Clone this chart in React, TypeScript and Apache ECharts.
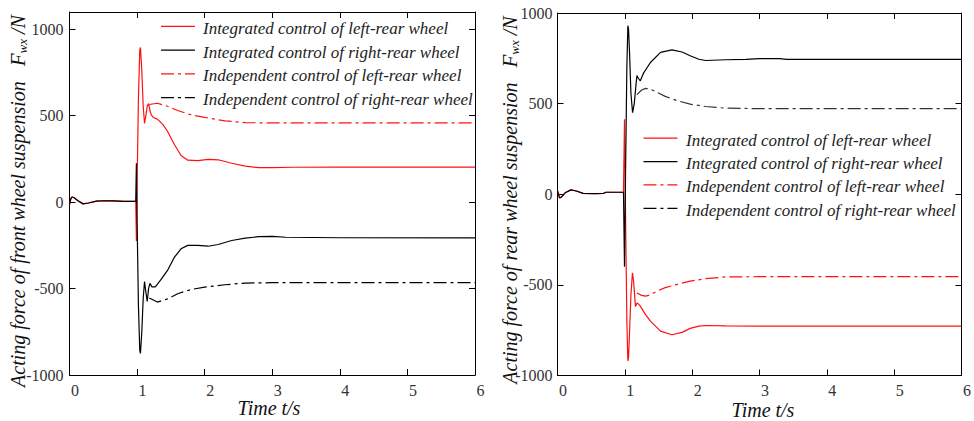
import React, { useEffect, useRef } from "react";
import * as echarts from "echarts";

const legendNames = [
  "Integrated control of left-rear wheel",
  "Integrated control of right-rear wheel",
  "Independent control of left-rear wheel",
  "Independent control of right-rear wheel",
];

// Time axis (s)
const timeMin = 0;
const timeMax = 6;
const timeInterval = 1;

// Force axes (N)
const frontYMin = -1000;
const frontYMax = 1100;
const rearYMin = -1000;
const rearYMax = 1000;
const yInterval = 500;

// ---------- front wheel suspension (left panel) ----------
const frontPre: number[][] = [
  [0, -15], [0.02, 20], [0.04, 30], [0.07, 25], [0.12, 10], [0.2, -10],
  [0.28, -5], [0.4, 6], [0.5, 8], [0.65, 7], [0.8, 4], [0.98, 4],
];
const frontLeftIntegrated: number[][] = [
  [0.99, -225], [1.0, 100], [1.02, 600], [1.04, 880], [1.05, 895], [1.07, 760],
  [1.09, 560], [1.11, 455], [1.13, 500], [1.15, 555], [1.17, 570], [1.19, 530],
  [1.21, 505], [1.24, 490], [1.3, 480], [1.38, 450], [1.45, 410], [1.55, 335],
  [1.65, 270], [1.75, 243], [1.9, 240], [2.05, 247], [2.2, 245], [2.4, 225],
  [2.6, 208], [2.8, 200], [3.0, 200], [3.3, 202], [4.0, 203], [6.0, 203],
];
const frontRightIntegrated: number[][] = [
  [0.99, 225], [1.0, -100], [1.02, -600], [1.04, -860], [1.05, -875], [1.07, -750],
  [1.09, -560], [1.11, -460], [1.13, -520], [1.15, -575], [1.17, -500], [1.19, -470],
  [1.22, -490], [1.27, -490], [1.35, -450], [1.45, -395], [1.55, -320], [1.65, -270],
  [1.75, -250], [1.9, -250], [2.05, -255], [2.2, -245], [2.4, -222], [2.6, -208],
  [2.8, -200], [3.0, -198], [3.2, -203], [4.0, -206], [6.0, -207],
];
const frontLeftIndependent: number[][] = [
  [1.18, 565], [1.3, 572], [1.45, 555], [1.6, 530], [1.8, 505], [2.0, 490],
  [2.3, 470], [2.6, 460], [3.0, 458], [6.0, 458],
];
const frontRightIndependent: number[][] = [
  [1.18, -555], [1.3, -578], [1.45, -560], [1.6, -530], [1.8, -505], [2.0, -492],
  [2.3, -478], [2.6, -468], [3.0, -466], [6.0, -466],
];

// ---------- rear wheel suspension (right panel) ----------
const rearPre: number[][] = [
  [0, 20], [0.03, -20], [0.06, -15], [0.12, 10], [0.2, 24], [0.28, 18],
  [0.38, 5], [0.55, 3], [0.68, 4], [0.72, 11], [0.98, 11],
];
const rearLeftIntegrated: number[][] = [
  [0.995, 414], [1.01, -100], [1.03, -700], [1.045, -920], [1.055, -900],
  [1.07, -760], [1.09, -560], [1.113, -433], [1.13, -480], [1.158, -620],
  [1.18, -600], [1.2, -605], [1.23, -617], [1.3, -660], [1.38, -700],
  [1.53, -755], [1.7, -775], [1.85, -762], [1.97, -740], [2.1, -728],
  [2.2, -724], [2.5, -726], [3.0, -728], [6.0, -728],
];
const rearRightIntegrated: number[][] = [
  [0.995, -400], [1.01, 100], [1.03, 700], [1.045, 930], [1.055, 910],
  [1.07, 780], [1.09, 560], [1.115, 450], [1.14, 500], [1.17, 620],
  [1.18, 655], [1.2, 640], [1.23, 626], [1.28, 670], [1.38, 727],
  [1.53, 783], [1.7, 797], [1.85, 785], [1.97, 764], [2.1, 745],
  [2.2, 738], [2.5, 742], [2.8, 744], [3.0, 748], [3.3, 748], [3.4, 744], [6.0, 744],
];
const rearLeftIndependent: number[][] = [
  [1.18, -545], [1.25, -558], [1.31, -562], [1.38, -555], [1.48, -534], [1.6, -515],
  [1.78, -497], [1.97, -479], [2.2, -466], [2.5, -456], [3.0, -455], [6.0, -455],
];
const rearRightIndependent: number[][] = [
  [1.18, 550], [1.25, 575], [1.31, 584], [1.38, 580], [1.48, 562], [1.6, 540],
  [1.78, 516], [1.97, 497], [2.2, 484], [2.5, 475], [3.0, 472], [6.0, 472],
];

const RED = "#ff1010";
const BLACK = "#000000";
const SERIF = "Liberation Serif";
const DASHDOT = [13, 4, 3, 4];
// legend glyphs: the line sits near the top of a 5px box, so it rides a little above the text centre
const ICON_SOLID = "path://M0,0h34v1.3h-34zM0,5h0.01v0.01h-0.01z";
const ICON_DASHDOT = "path://M0,0h13v1.3h-13zM17,0h3v1.3h-3zM24,0h10v1.3h-10zM0,5h0.01v0.01h-0.01z";

function buildOption(): any {
  const tickLabel = {
    fontFamily: SERIF,
    fontSize: 16,
    color: "#333",
  };
  const axisLine = { show: true, onZero: false, lineStyle: { color: "#000", width: 1 } };
  const tick = { show: true, inside: true, length: 6, lineStyle: { color: "#000" } };

  const grids = [
    { left: 69.5, top: 12, width: 405.5, height: 363 },
    { left: 557.5, top: 13, width: 404.5, height: 362.5 },
  ];
  const yRanges = [
    [frontYMin, frontYMax],
    [rearYMin, rearYMax],
  ];
  const xAxes: any[] = [];
  const yAxes: any[] = [];
  grids.forEach((_, g) => {
    xAxes.push({
      type: "value", gridIndex: g, position: "bottom",
      min: timeMin, max: timeMax, interval: timeInterval,
      axisLine, axisTick: tick, splitLine: { show: false },
      axisLabel: { ...tickLabel, margin: 7, padding: [0, 0, 0, 11] },
    });
    xAxes.push({
      type: "value", gridIndex: g, position: "top",
      min: timeMin, max: timeMax, interval: timeInterval,
      axisLine, axisTick: tick, splitLine: { show: false },
      axisLabel: { show: false },
    });
    yAxes.push({
      type: "value", gridIndex: g, position: "left",
      min: yRanges[g][0], max: yRanges[g][1], interval: yInterval,
      axisLine, axisTick: tick, splitLine: { show: false },
      axisLabel: {
        ...tickLabel, margin: g === 0 ? 6 : 5,
        formatter: (v: number) => (v % yInterval === 0 ? String(v) : ""),
      },
    });
    yAxes.push({
      type: "value", gridIndex: g, position: "right",
      min: yRanges[g][0], max: yRanges[g][1], interval: yInterval,
      axisLine, axisTick: tick, splitLine: { show: false },
      axisLabel: { show: false },
    });
  });

  const mk = (name: string, data: number[][], color: string, dashed: boolean, g: number) => ({
    type: "line",
    name,
    data,
    xAxisIndex: g * 2,
    yAxisIndex: g * 2,
    symbol: "none",
    showSymbol: false,
    silent: true,
    color,
    lineStyle: { color, width: 1.2, type: dashed ? DASHDOT : "solid" },
    itemStyle: { color },
  });

  const series = [
    mk(legendNames[0], frontPre.concat(frontLeftIntegrated), RED, false, 0),
    mk(legendNames[1], frontPre.concat(frontRightIntegrated), BLACK, false, 0),
    mk(legendNames[2], frontLeftIndependent, RED, true, 0),
    mk(legendNames[3], frontRightIndependent, BLACK, true, 0),
    mk(legendNames[0], rearPre.concat(rearLeftIntegrated), RED, false, 1),
    mk(legendNames[1], rearPre.concat(rearRightIntegrated), BLACK, false, 1),
    mk(legendNames[2], rearLeftIndependent, RED, true, 1),
    mk(legendNames[3], rearRightIndependent, "#333", true, 1),
  ];

  const legendText = {
    fontFamily: SERIF,
    fontStyle: "italic",
    fontSize: 17,
    lineHeight: 17,
    color: "#222",
    padding: [0, 0, 0, 3],
  };
  const legendData = legendNames.map((name, i) => ({
    name,
    icon: i < 2 ? ICON_SOLID : ICON_DASHDOT,
  }));
  const legends = [
    { left: 156, top: 14.8, orient: "vertical", itemWidth: 34, itemHeight: 5, itemGap: 6.7,
      selectedMode: false, data: legendData, textStyle: legendText },
    { left: 638.5, top: 126.5, orient: "vertical", itemWidth: 35, itemHeight: 5, itemGap: 6.4,
      selectedMode: false, data: legendData, textStyle: legendText },
  ];

  const titleRich = {
    a: { fontFamily: SERIF, fontStyle: "italic", fontSize: 20, fill: "#111" },
    f: { fontFamily: SERIF, fontStyle: "italic", fontSize: 21, fill: "#111" },
    s: { fontFamily: SERIF, fontStyle: "italic", fontSize: 13, fill: "#111", verticalAlign: "bottom", padding: [8, 0, 0, 0] },
  };
  const yTitle = (label: string, x: number, y: number) => ({
    type: "text",
    x,
    y,
    rotation: Math.PI / 2,
    silent: true,
    style: {
      text: `{a|${label}}{a|   }{f|F}{s|wx}{a| /N}`,
      rich: titleRich,
      align: "center",
      verticalAlign: "middle",
    },
  });
  const xTitle = (x: number, y: number) => ({
    type: "text",
    x,
    y,
    silent: true,
    style: {
      text: "Time t/s",
      fontFamily: SERIF,
      fontStyle: "italic",
      fontSize: 20,
      fill: "#111",
      align: "center",
      verticalAlign: "middle",
    },
  });

  return {
    animation: false,
    backgroundColor: "#ffffff",
    textStyle: { fontFamily: SERIF },
    grid: grids,
    xAxis: xAxes,
    yAxis: yAxes,
    legend: legends,
    series,
    graphic: [
      yTitle("Acting force of front wheel suspension", 18, 201),
      yTitle("Acting force of rear wheel suspension", 510, 200),
      xTitle(269, 408),
      xTitle(763, 410),
    ],
  };
}

export default function App() {
  const ref = useRef<HTMLDivElement>(null);
  useEffect(() => {
    if (!ref.current) return;
    const chart = echarts.init(ref.current, undefined, { renderer: "svg" });
    chart.setOption(buildOption());
    return () => chart.dispose();
  }, []);
  return (
    <div
      ref={ref}
      style={{ position: "absolute", left: 0, top: 0, width: 974, height: 421, background: "#fff" }}
    />
  );
}
